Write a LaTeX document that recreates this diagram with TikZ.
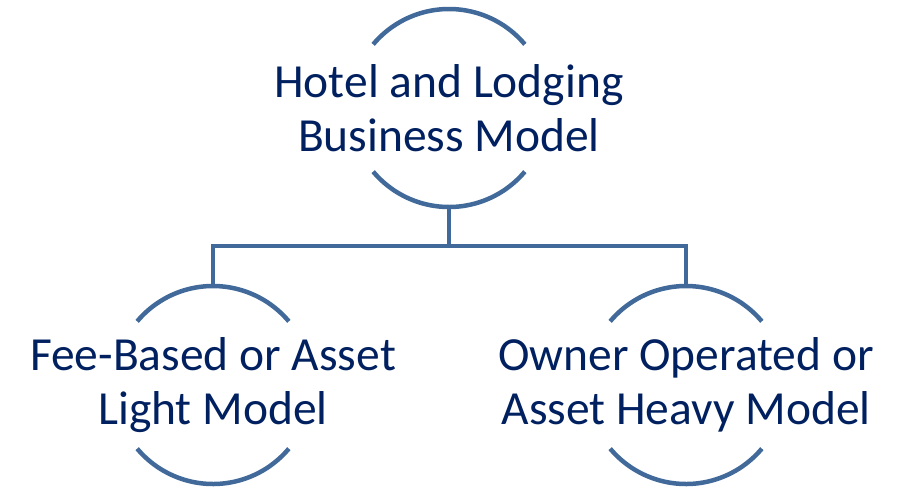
\documentclass[tikz,border=0pt]{standalone}
\usepackage{fontspec}
\setmainfont{Carlito}
\usetikzlibrary{positioning, calc}
\definecolor{ringblue}{RGB}{65, 106, 155}
\definecolor{textnavy}{RGB}{0, 32, 96}

\begin{document}
\begin{tikzpicture}[
    x=1pt, y=1pt,
    modeltext/.style={align=center, text=textnavy, inner sep=0pt, font=\fontsize{47.5}{54}\selectfont},
    ring/.style={draw=ringblue, line width=4.5pt},
    link/.style={draw=ringblue, line width=4.5pt}
]
\useasboundingbox (0,0) rectangle (899,-488);

\node (hotel) [modeltext] at (449,-108) {Hotel and Lodging\\Business Model};
\node (fee) [modeltext] at (213,-385) {Fee-Based or Asset\\Light Model};
\node (owner) [modeltext] at (686,-385) {Owner Operated or\\Asset Heavy Model};

% open circles round each model
\foreach \m in {hotel, fee, owner} {
    \draw [ring] ([shift={(40:99)}]\m.center) arc (40:140:99);
    \draw [ring] ([shift={(220:99)}]\m.center) arc (220:320:99);
    \coordinate (\m N) at ([yshift=99pt]\m.center);
    \coordinate (\m S) at ([yshift=-99pt]\m.center);
}

\coordinate (split) at ([yshift=-39pt]hotelS);
\draw [link] (hotelS) -- (split) -| (feeN);
\draw [link] (split) -| (ownerN);

\end{tikzpicture}
\end{document}
